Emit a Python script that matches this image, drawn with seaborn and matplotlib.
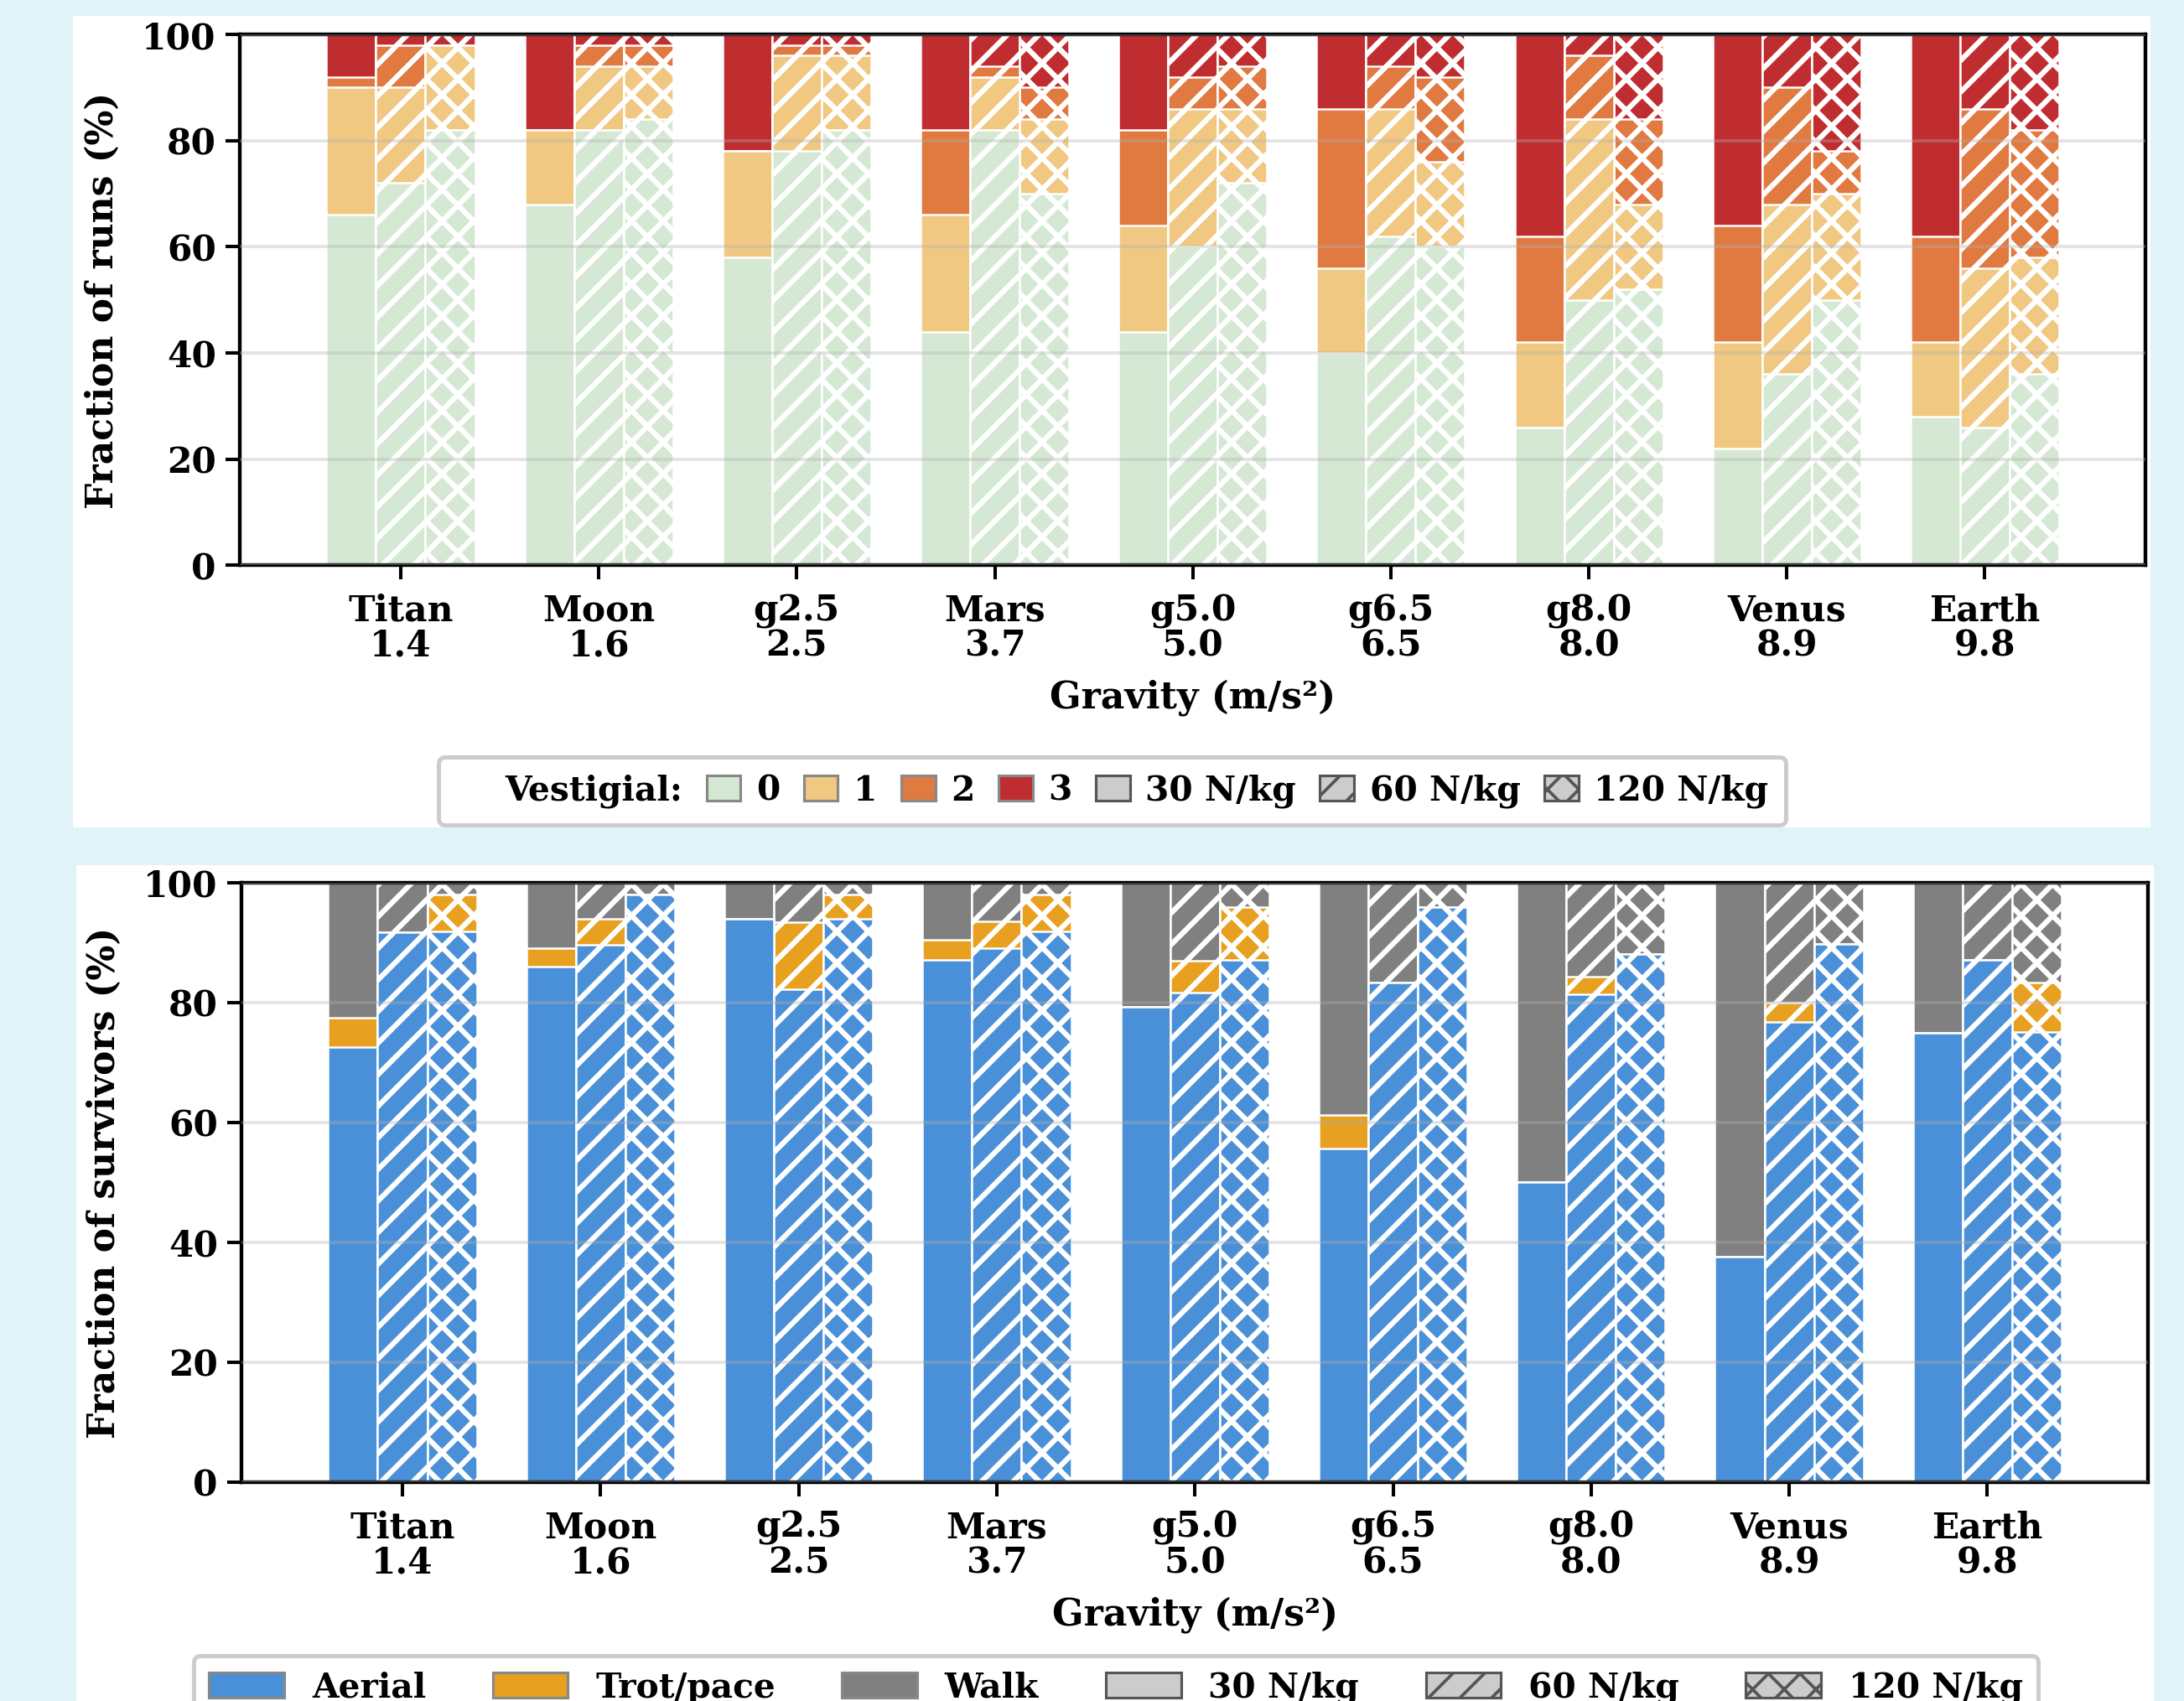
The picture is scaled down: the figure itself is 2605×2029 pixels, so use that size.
import numpy as np
import pandas as pd
import matplotlib
matplotlib.use('Agg')
import matplotlib.pyplot as plt
from matplotlib.patches import Patch, Rectangle
import seaborn as sns

# ── data ──────────────────────────────────────────────────────
planets = ['Titan', 'Moon', 'g2.5', 'Mars', 'g5.0', 'g6.5', 'g8.0', 'Venus', 'Earth']
gravity = ['1.4', '1.6', '2.5', '3.7', '5.0', '6.5', '8.0', '8.9', '9.8']
forces = ['30 N/kg', '60 N/kg', '120 N/kg']

# fraction of runs (%) per vestigial count, rows = 30 / 60 / 120 N/kg
vest0 = [[66, 68, 58, 44, 44, 40, 26, 22, 28],
         [72, 82, 78, 82, 60, 62, 50, 36, 26],
         [82, 84, 82, 70, 72, 60, 52, 50, 36]]
vest1 = [[24, 14, 20, 22, 20, 16, 16, 20, 14],
         [18, 12, 18, 10, 26, 24, 34, 32, 30],
         [16, 10, 14, 14, 14, 16, 16, 20, 22]]
vest2 = [[2, 0, 0, 16, 18, 30, 20, 22, 20],
         [8, 4, 2, 2, 6, 8, 12, 22, 30],
         [0, 4, 2, 6, 8, 16, 16, 8, 24]]
vest3 = [[8, 18, 22, 18, 18, 14, 38, 36, 38],
         [2, 2, 2, 6, 8, 6, 4, 10, 14],
         [2, 2, 2, 10, 6, 8, 16, 22, 18]]

# fraction of survivors (%) per gait
aerial = [[72.5, 86.0, 93.9, 87.1, 79.3, 55.6, 50.0, 37.6, 75.0],
          [91.7, 89.6, 82.2, 89.0, 81.6, 83.4, 81.4, 76.7, 87.1],
          [91.8, 98.0, 94.0, 91.8, 87.1, 95.9, 88.1, 89.8, 75.1]]
trot = [[4.9, 3.0, 0.0, 3.3, 0.0, 5.6, 0.0, 0.0, 0.0],
        [0.0, 4.3, 11.2, 4.5, 5.3, 0.0, 2.9, 3.3, 0.0],
        [6.2, 0.0, 4.0, 6.2, 8.8, 0.0, 0.0, 0.0, 8.3]]
walk = [[22.6, 11.0, 6.1, 9.6, 20.7, 38.8, 50.0, 62.4, 25.0],
        [8.3, 6.1, 6.6, 6.5, 13.1, 16.6, 15.7, 20.0, 12.9],
        [2.0, 2.0, 2.0, 2.0, 4.1, 4.1, 11.9, 10.2, 16.6]]

vest_labels = ['0', '1', '2', '3']
vest_colors = ['#d4e8d3', '#f0c882', '#e07a40', '#c02d30']
gait_labels = ['Aerial', 'Trot/pace', 'Walk']
gait_colors = ['#4a90d9', '#e8a020', '#808080']
hatches = ['', '//', 'xx']

# ── style ─────────────────────────────────────────────────────
sns.set_style('ticks')
plt.rcParams['font.family'] = ['DejaVu Serif']
plt.rcParams['font.weight'] = 'bold'
plt.rcParams['axes.labelweight'] = 'bold'
plt.rcParams['text.color'] = 'black'
plt.rcParams['axes.labelcolor'] = 'black'
plt.rcParams['xtick.color'] = 'black'
plt.rcParams['ytick.color'] = 'black'
plt.rcParams['hatch.linewidth'] = 2.0

W, H, DPI = 2605, 2029, 226
fig = plt.figure(figsize=((W + 0.4) / DPI, (H + 0.4) / DPI), dpi=DPI, facecolor='#e0f4f8')
fig.add_artist(Rectangle((87 / W, 1 - 987 / H), 2478 / W, 968 / H, transform=fig.transFigure,
                         facecolor='white', edgecolor='none', zorder=0))
fig.add_artist(Rectangle((91 / W, 0), 2478 / W, 997 / H, transform=fig.transFigure,
                         facecolor='white', edgecolor='none', zorder=0))

ax1 = fig.add_axes([286 / W, 1 - 674.5 / H, 2273 / W, 633 / H])
ax2 = fig.add_axes([288 / W, 1 - 1768 / H, 2274 / W, 715 / H])


def stacked(ax, levels, colors):
    cum = np.cumsum(np.array(levels, dtype=float), axis=0)
    # draw cumulative totals from the top level down so lower segments sit in front
    for li in reversed(range(len(levels))):
        d = pd.DataFrame([(planets[p], forces[f], cum[li, f, p])
                          for f in range(3) for p in range(len(planets))],
                         columns=['planet', 'force', 'top'])
        sns.barplot(data=d, x='planet', y='top', hue='force', order=planets,
                    hue_order=forces, palette=[colors[li]] * 3, width=0.75,
                    saturation=1, edgecolor='white', linewidth=0.8,
                    errorbar=None, legend=False, ax=ax)
    for bar in ax.patches:
        cx = bar.get_x() + bar.get_width() / 2
        k = int(round((cx - round(cx)) / 0.25)) + 1
        bar.set_hatch(hatches[k])


def style_axis(ax, ylabel):
    ax.set_xlim(-0.8125, len(planets) - 1 + 0.8125)
    ax.set_ylim(0, 100)
    ax.set_yticks(np.arange(0, 101, 20))
    ax.set_xticks(range(len(planets)))
    ax.set_xticklabels([f'{p}\n{g}' for p, g in zip(planets, gravity)],
                       fontsize=13.5, fontweight='bold', linespacing=1.0)
    ax.tick_params(axis='y', labelsize=13.5)
    ax.tick_params(axis='x', pad=5)
    ax.tick_params(direction='out', length=5.5, width=1.3, color='black')
    for lab in ax.get_yticklabels():
        lab.set_fontweight('bold')
    ax.set_axisbelow(False)
    ax.yaxis.grid(True, color='#b0b0b0', alpha=0.35, linewidth=1.2)
    for s in ax.spines.values():
        s.set_visible(True)
        s.set_color('black')
        s.set_linewidth(1.4)
    ax.set_xlabel('Gravity (m/s²)', fontsize=14, fontweight='bold', labelpad=6)
    ax.set_ylabel(ylabel, fontsize=14, fontweight='bold', labelpad=8)


stacked(ax1, [vest0, vest1, vest2, vest3], vest_colors)
style_axis(ax1, 'Fraction of runs (%)')
stacked(ax2, [aerial, trot, walk], gait_colors)
style_axis(ax2, 'Fraction of survivors (%)')

# ── legends ───────────────────────────────────────────────────
plt.rcParams['hatch.linewidth'] = 1.2
h1 = [Patch(facecolor='none', edgecolor='none', label='Vestigial:')]
h1 += [Patch(facecolor=c, edgecolor='#888888', label=l) for c, l in zip(vest_colors, vest_labels)]
h1 += [Patch(facecolor='#cccccc', edgecolor='#555555', hatch=h, label=f)
       for h, f in zip(hatches, forces)]
leg1 = fig.legend(handles=h1, loc='center', bbox_to_anchor=(1326 / W, 1 - 944 / H), ncol=8,
                  frameon=True, fancybox=True, handlelength=1.0, handleheight=0.75,
                  handletextpad=0.45, columnspacing=0.7, borderpad=0.5, borderaxespad=0,
                  prop={'weight': 'bold', 'size': 13}, edgecolor='#cccccc', framealpha=1)
leg1.get_frame().set_linewidth(1.6)

h2 = [Patch(facecolor=c, edgecolor='#888888', label=l) for c, l in zip(gait_colors, gait_labels)]
h2 += [Patch(facecolor='#cccccc', edgecolor='#555555', hatch=h, label=f)
       for h, f in zip(hatches, forces)]
leg2 = fig.legend(handles=h2, loc='upper center', bbox_to_anchor=(1331 / W, 1 - 1975 / H), ncol=6,
                  frameon=True, fancybox=True, handlelength=2.2, handleheight=0.75,
                  handletextpad=0.8, columnspacing=1.95, borderpad=0.45, borderaxespad=0,
                  prop={'weight': 'bold', 'size': 13}, edgecolor='#cccccc', framealpha=1)
leg2.get_frame().set_linewidth(1.6)

fig.savefig('out.png', dpi=DPI, facecolor=fig.get_facecolor())
